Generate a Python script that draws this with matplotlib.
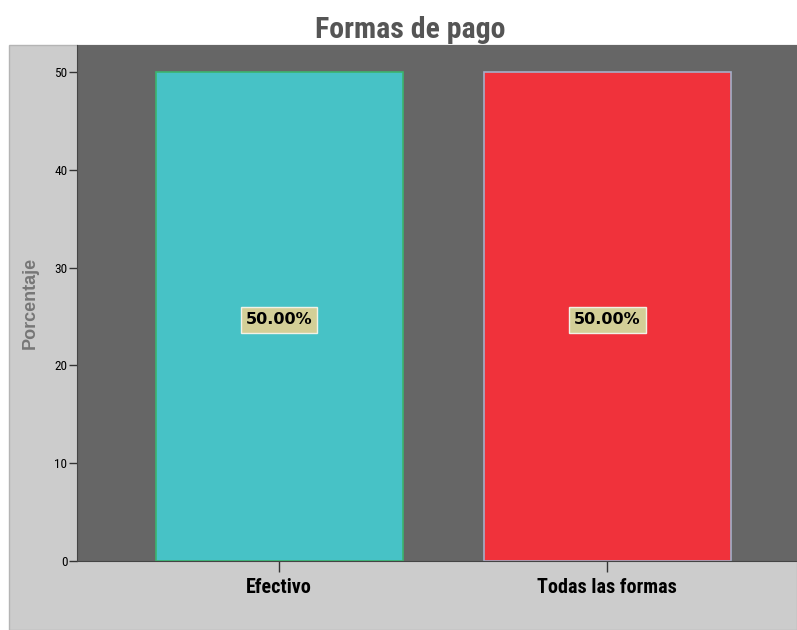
import matplotlib
matplotlib.use('Agg')
import matplotlib.pyplot as plt
from matplotlib.patches import Rectangle
import numpy as np

categories = ['Efectivo', 'Todas las formas']
percentages = [50.0, 50.0]
bar_colors = ['#47c2c6', '#f0323b']
edge_colors = ['#3cb46e', '#a5aec8']
yticks = [0, 10, 20, 30, 40, 50]

narrow = ['Roboto Condensed', 'DejaVu Sans']

fig = plt.figure(figsize=(7.97, 6.30), dpi=100)
fig.patch.set_facecolor('white')
# light gray panel behind the chart
fig.patches.append(Rectangle((9 / 797, 0), 1 - 9 / 797, (630 - 45) / 630,
                             transform=fig.transFigure, facecolor='#cccccc',
                             edgecolor='#b4b4b4', linewidth=1, zorder=-5))

ax = fig.add_axes([77 / 797, (630 - 561) / 630, 720 / 797, (561 - 45) / 630])
ax.set_zorder(2)
ax.set_facecolor('#666666')

x = np.arange(len(categories))
ax.bar(x, percentages, width=0.753, color=bar_colors, edgecolor=edge_colors,
       linewidth=1.2, zorder=2)

for xi, v in zip(x, percentages):
    ax.text(xi, v / 2 - 0.35, f'{v:.2f}%', ha='center', va='center', fontsize=11.5,
            fontweight='heavy', color='black', zorder=3,
            bbox=dict(boxstyle='square,pad=0.32', facecolor='#d3cf97',
                      edgecolor='#f2f2e6', linewidth=1))

ax.set_xlim(-0.616, 1.579)
ax.set_ylim(0, 52.76)
ax.set_yticks(yticks)
ax.set_yticklabels([str(t) for t in yticks], fontsize=9.5, family=narrow)
ax.set_xticks(x)
ax.set_xticklabels(categories, fontsize=14.5, fontweight='bold', family=narrow)
ax.tick_params(axis='y', length=6, width=1, color='#333333', pad=1)
ax.tick_params(axis='x', length=8, width=1, color='#333333', pad=4)

for side in ['top', 'right']:
    ax.spines[side].set_visible(False)
ax.spines['left'].set_color('#444444')
ax.spines['bottom'].set_color('#444444')

ax.set_ylabel('Porcentaje', fontsize=13, fontweight='bold', color='#777777',
              family=['Liberation Sans', 'DejaVu Sans'], labelpad=11)

fig.text(0.515, 1 - 30 / 630, 'Formas de pago', ha='center', va='center',
         fontsize=21.5, fontweight='bold', color='#555555', family=narrow)

fig.savefig('out.png', dpi=100)
